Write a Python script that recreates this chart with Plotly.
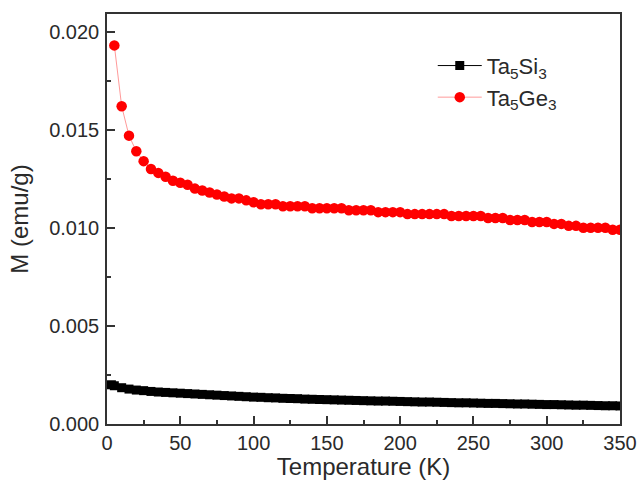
import plotly.graph_objects as go

# Ta5Ge3 (red circles)
T_ge = [5, 10, 15, 20, 25, 30, 35, 40, 45, 50, 55, 60, 65, 70, 75, 80, 85, 90, 95, 100,
        105, 110, 115, 120, 125, 130, 135, 140, 145, 150, 155, 160, 165, 170, 175, 180,
        185, 190, 195, 200, 205, 210, 215, 220, 225, 230, 235, 240, 245, 250, 255, 260,
        265, 270, 275, 280, 285, 290, 295, 300, 305, 310, 315, 320, 325, 330, 335, 340,
        345, 350]
M_ge = [0.0193, 0.0162, 0.0147, 0.0139, 0.0134, 0.0130, 0.0128, 0.0126, 0.0124, 0.0123,
        0.0122, 0.0120, 0.0119, 0.0118, 0.0117, 0.0116, 0.0115, 0.0115, 0.0114, 0.0113,
        0.0112, 0.0112, 0.0112, 0.0111, 0.0111, 0.0111, 0.0111, 0.0110, 0.0110, 0.0110,
        0.0110, 0.0110, 0.0109, 0.0109, 0.0109, 0.0109, 0.0108, 0.0108, 0.0108, 0.0108,
        0.0107, 0.0107, 0.0107, 0.0107, 0.0107, 0.0107, 0.0106, 0.0106, 0.0106, 0.0106,
        0.0106, 0.0105, 0.0105, 0.0105, 0.0104, 0.0104, 0.0104, 0.0103, 0.0103, 0.0103,
        0.0102, 0.0102, 0.0101, 0.0101, 0.0100, 0.0100, 0.0100, 0.0100, 0.0099, 0.0099]

# Ta5Si3 (black squares)
T_si = [3, 5, 10, 15, 20, 25, 30, 35, 40, 45, 50, 55, 60, 65, 70, 75, 80, 85, 90, 95, 100,
        105, 110, 115, 120, 125, 130, 135, 140, 145, 150, 155, 160, 165, 170, 175, 180,
        185, 190, 195, 200, 205, 210, 215, 220, 225, 230, 235, 240, 245, 250, 255, 260,
        265, 270, 275, 280, 285, 290, 295, 300, 305, 310, 315, 320, 325, 330, 335, 340,
        345, 350]
M_si = [0.00200, 0.00195, 0.00185, 0.00178, 0.00173, 0.00170, 0.00166, 0.00163, 0.00161,
        0.00159, 0.00157, 0.00155, 0.00153, 0.00151, 0.00149, 0.00147, 0.00145, 0.00143,
        0.00141, 0.00139, 0.00137, 0.00136, 0.00134, 0.00133, 0.00131, 0.00130, 0.00129,
        0.00127, 0.00126, 0.00125, 0.00124, 0.00123, 0.00122, 0.00121, 0.00120, 0.00119,
        0.00118, 0.00117, 0.00117, 0.00116, 0.00115, 0.00114, 0.00113, 0.00112, 0.00112,
        0.00111, 0.00110, 0.00109, 0.00108, 0.00108, 0.00107, 0.00106, 0.00105, 0.00105,
        0.00104, 0.00103, 0.00102, 0.00102, 0.00101, 0.00100, 0.00099, 0.00099, 0.00098,
        0.00097, 0.00096, 0.00096, 0.00095, 0.00094, 0.00093, 0.00093, 0.00092]

x_ticks = [0, 50, 100, 150, 200, 250, 300, 350]
y_ticks = [0.000, 0.005, 0.010, 0.015, 0.020]
y_ticklabels = ["0.000", "0.005", "0.010", "0.015", "0.020"]

FONT = "Liberation Sans, Arial, sans-serif"
AX = "#333333"

fig = go.Figure()
fig.add_trace(go.Scatter(
    x=T_si, y=M_si, mode="lines+markers", name="Ta<sub>5</sub>Si<sub>3</sub>",
    line=dict(color="black", width=1),
    marker=dict(symbol="square", size=9, color="black"),
))
fig.add_trace(go.Scatter(
    x=T_ge, y=M_ge, mode="lines+markers", name="Ta<sub>5</sub>Ge<sub>3</sub>",
    line=dict(color="#ff9a9a", width=1),
    marker=dict(symbol="circle", size=10.5, color="#ff0000"),
))

fig.update_layout(
    width=640, height=480,
    margin=dict(l=107, r=20, t=14, b=56, autoexpand=False),
    paper_bgcolor="white", plot_bgcolor="white",
    font=dict(family=FONT, size=20, color="#2a2a2a"),
    showlegend=True,
    legend=dict(x=0.635, y=0.925, xanchor="left", yanchor="top",
                bgcolor="rgba(0,0,0,0)", font=dict(size=22, color="#2a2a2a"),
                itemwidth=44, traceorder="normal"),
    xaxis=dict(
        range=[0, 350], tickvals=x_ticks, ticks="inside", ticklen=8, tickwidth=1.5,
        tickcolor=AX, showline=True, linecolor=AX, linewidth=1.5, mirror=True,
        showgrid=False, zeroline=False, automargin=False,
        minor=dict(dtick=25, ticks="inside", ticklen=4, tickwidth=1.5, tickcolor=AX),
        title=dict(text="Temperature (K)", font=dict(size=24), standoff=0),
        tickfont=dict(size=20),
        ticklabelstandoff=0,
    ),
    yaxis=dict(
        range=[0, 0.0209], tickvals=y_ticks, ticktext=y_ticklabels, ticks="inside",
        ticklen=8, tickwidth=1.5, tickcolor=AX, showline=True, linecolor=AX,
        linewidth=1.5, mirror=True, showgrid=False, zeroline=False, automargin=False,
        minor=dict(dtick=0.0025, ticks="inside", ticklen=4, tickwidth=1.5, tickcolor=AX),
        title=dict(text="M (emu/g)", font=dict(size=24), standoff=14),
        tickfont=dict(size=20),
        ticklabelstandoff=2,
    ),
)

fig.write_html("out.html")
